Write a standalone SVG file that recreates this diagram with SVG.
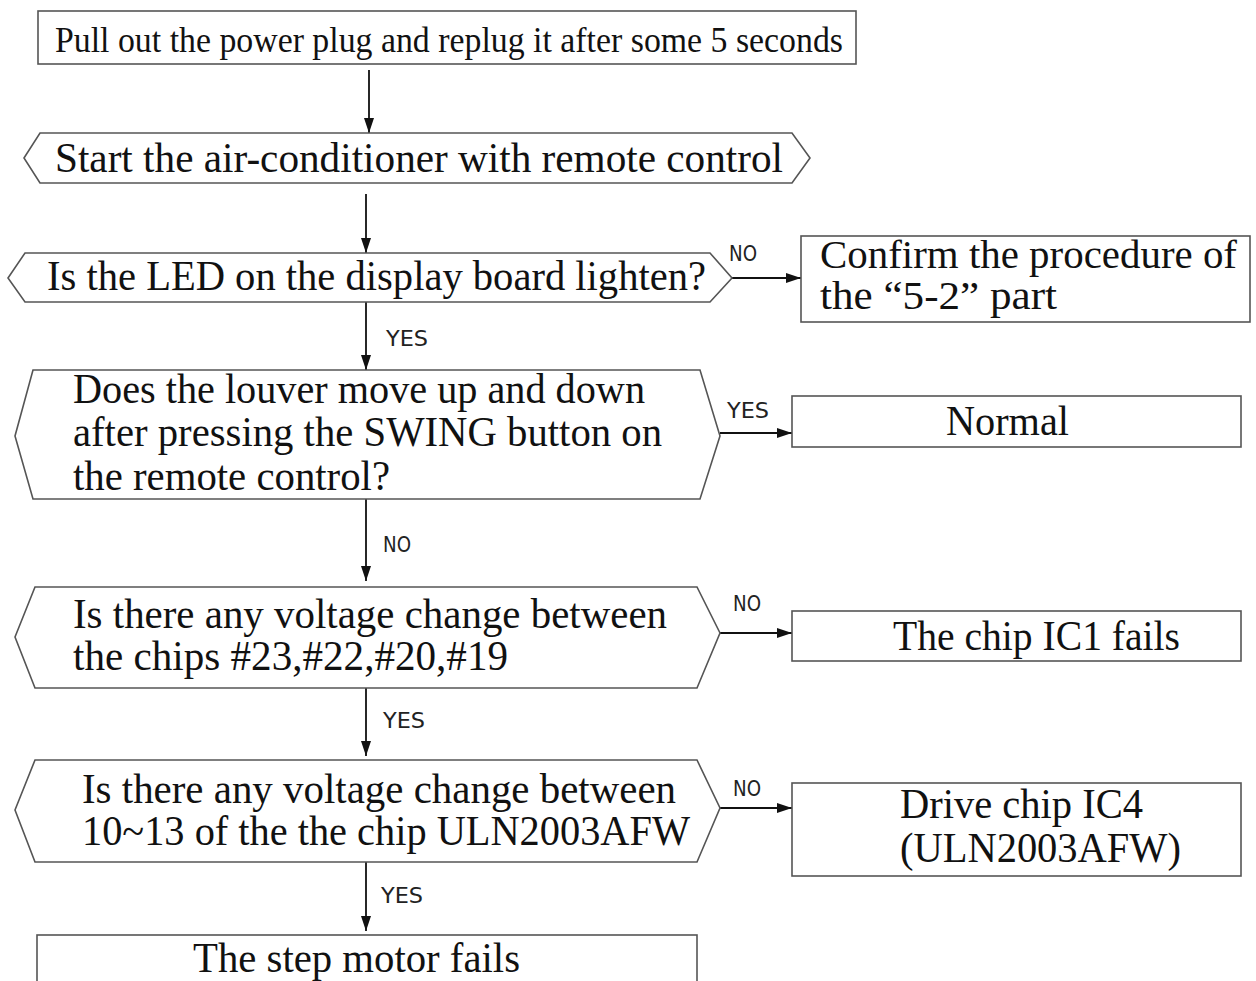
<svg xmlns="http://www.w3.org/2000/svg" width="1256" height="981" viewBox="0 0 1256 981">
<style>
.shape{fill:#fff;stroke:#555;stroke-width:1.6}
.t{font-family:"Liberation Serif","Times New Roman",serif;fill:#111;font-size:42px}
.t3{font-family:"Liberation Serif","Times New Roman",serif;fill:#111;font-size:39px}
.t2{font-family:"Liberation Serif","Times New Roman",serif;fill:#111;font-size:35px}
.lbl{font-family:"DejaVu Sans Condensed","Liberation Sans",sans-serif;fill:#222;font-size:22px}
.c{stroke:#111;stroke-width:1.8;fill:none;marker-end:url(#ah)}
</style>
<defs>
<marker id="ah" viewBox="0 0 15 10" refX="15" refY="5" markerWidth="15" markerHeight="10" markerUnits="userSpaceOnUse" orient="auto">
<path d="M0,0 L15,5 L0,10 Z" fill="#111"/>
</marker>
</defs>
<rect width="1256" height="981" fill="#fff"/>
<g id="connectors">
<line class="c" x1="369" y1="70" x2="369" y2="133"/>
<line class="c" x1="366" y1="194" x2="366" y2="253"/>
<line class="c" x1="732" y1="278" x2="801" y2="278"/>
<line class="c" x1="366" y1="302" x2="366" y2="370"/>
<line class="c" x1="720" y1="433" x2="792" y2="433"/>
<line class="c" x1="366" y1="499" x2="366" y2="581"/>
<line class="c" x1="720" y1="633" x2="792" y2="633"/>
<line class="c" x1="366" y1="688" x2="366" y2="756"/>
<line class="c" x1="720" y1="808" x2="792" y2="808"/>
<line class="c" x1="366" y1="862" x2="366" y2="931"/>
<text class="lbl" x="729" y="261" textLength="28" lengthAdjust="spacingAndGlyphs">NO</text>
<text class="lbl" x="386" y="346" textLength="42" lengthAdjust="spacingAndGlyphs">YES</text>
<text class="lbl" x="727" y="418" textLength="42" lengthAdjust="spacingAndGlyphs">YES</text>
<text class="lbl" x="383" y="552" textLength="28" lengthAdjust="spacingAndGlyphs">NO</text>
<text class="lbl" x="733" y="611" textLength="28" lengthAdjust="spacingAndGlyphs">NO</text>
<text class="lbl" x="383" y="728" textLength="42" lengthAdjust="spacingAndGlyphs">YES</text>
<text class="lbl" x="733" y="796" textLength="28" lengthAdjust="spacingAndGlyphs">NO</text>
<text class="lbl" x="381" y="903" textLength="42" lengthAdjust="spacingAndGlyphs">YES</text>
</g>
<g id="n1">
<rect class="shape" x="38" y="11" width="818" height="53"/>
<text class="t2" x="55" y="52" textLength="788" lengthAdjust="spacingAndGlyphs">Pull out the power plug and replug it after some 5 seconds</text>
</g>
<g id="n2">
<polygon class="shape" points="24,158 40,133 792,133 810,158 792,183 40,183"/>
<text class="t" x="55" y="172" textLength="728" lengthAdjust="spacingAndGlyphs">Start the air-conditioner with remote control</text>
</g>
<g id="n3">
<polygon class="shape" points="8,278 25,253 710,253 732,278 710,302 25,302"/>
<text class="t" x="47" y="290" textLength="659" lengthAdjust="spacingAndGlyphs">Is the LED on the display board lighten?</text>
</g>
<g id="n4">
<rect class="shape" x="801" y="236" width="449" height="86"/>
<text class="t3" x="820" y="268" textLength="417" lengthAdjust="spacingAndGlyphs">Confirm the procedure of</text>
<text class="t3" x="820" y="309" textLength="237" lengthAdjust="spacingAndGlyphs">the “5-2” part</text>
</g>
<g id="n5">
<polygon class="shape" points="15,436 33,370 700,370 720,436 700,499 33,499"/>
<text class="t" x="73" y="403" textLength="572" lengthAdjust="spacingAndGlyphs">Does the louver move up and down</text>
<text class="t" x="73" y="446" textLength="589" lengthAdjust="spacingAndGlyphs">after pressing the SWING button on</text>
<text class="t" x="73" y="490" textLength="317" lengthAdjust="spacingAndGlyphs">the remote control?</text>
</g>
<g id="n6">
<rect class="shape" x="792" y="396" width="449" height="51"/>
<text class="t" x="946" y="435" textLength="123" lengthAdjust="spacingAndGlyphs">Normal</text>
</g>
<g id="n7">
<polygon class="shape" points="15,637 35,587 697,587 720,633 697,688 35,688"/>
<text class="t" x="73" y="628" textLength="594" lengthAdjust="spacingAndGlyphs">Is there any voltage change between</text>
<text class="t" x="73" y="670" textLength="435" lengthAdjust="spacingAndGlyphs">the chips #23,#22,#20,#19</text>
</g>
<g id="n8">
<rect class="shape" x="792" y="611" width="449" height="50"/>
<text class="t" x="893" y="650" textLength="287" lengthAdjust="spacingAndGlyphs">The chip IC1 fails</text>
</g>
<g id="n9">
<polygon class="shape" points="15,810 35,760 697,760 720,808 697,862 35,862"/>
<text class="t" x="82" y="803" textLength="594" lengthAdjust="spacingAndGlyphs">Is there any voltage change between</text>
<text class="t" x="82" y="845" textLength="608" lengthAdjust="spacingAndGlyphs">10~13 of the the chip ULN2003AFW</text>
</g>
<g id="n10">
<rect class="shape" x="792" y="783" width="449" height="93"/>
<text class="t" x="900" y="818" textLength="243" lengthAdjust="spacingAndGlyphs">Drive chip IC4</text>
<text class="t" x="900" y="862" textLength="281" lengthAdjust="spacingAndGlyphs">(ULN2003AFW)</text>
</g>
<g id="n11">
<rect class="shape" x="37" y="935" width="660" height="60"/>
<text class="t" x="193" y="972" textLength="327" lengthAdjust="spacingAndGlyphs">The step motor fails</text>
</g>
</svg>
